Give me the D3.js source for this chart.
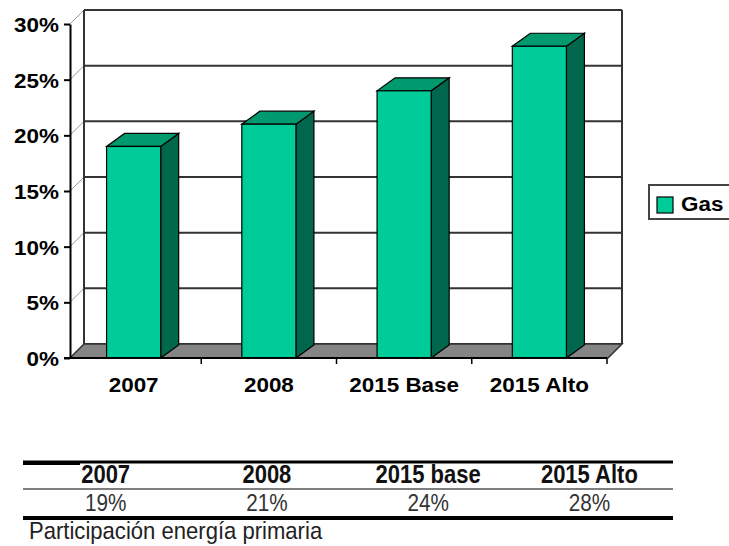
<!DOCTYPE html>
<html><head><meta charset="utf-8">
<script src="https://cdn.jsdelivr.net/npm/d3@7"></script>
<style>
html,body{margin:0;padding:0;background:#fff;}
svg{display:block;}
</style></head>
<body>
<svg id="chart" width="729" height="546"></svg>
<script>
const categories = ["2007", "2008", "2015 Base", "2015 Alto"];
const gasValues = [0.19, 0.21, 0.24, 0.28];
const yTicks = [0, 0.05, 0.10, 0.15, 0.20, 0.25, 0.30];
const seriesName = "Gas";
const tableHeaders = ["2007", "2008", "2015 base", "2015 Alto"];
const tableValues = ["19%", "21%", "24%", "28%"];
const footnote = "Participación energía primaria";

const svg = d3.select("#chart");
const FONT = "'Liberation Sans', Arial, sans-serif";
const SX = 1.07; // horizontal stretch of chart labels

// 3D geometry
const wallDx = 14, wallDy = -14;
const barDx = 18, barDy = -13;
const axisX = 70, floorY = 358, wallRight = 608;

const y = d3.scaleLinear().domain([0, 0.30]).range([358, 24]);
const x = d3.scaleBand().domain(categories).range([66, 607]).paddingInner(0.6).paddingOuter(0.3);

const colFront = "#00cc99", colTop = "#009a6e", colSide = "#00664c";

// back wall gridlines
const g = svg.append("g");
g.selectAll("line.grid").data(yTicks).enter().append("line")
  .attr("x1", axisX + wallDx).attr("x2", wallRight + wallDx)
  .attr("y1", d => y(d) + wallDy).attr("y2", d => y(d) + wallDy)
  .attr("stroke", "#333").attr("stroke-width", 2);
// left wall diagonals
g.selectAll("line.diag").data(yTicks).enter().append("line")
  .attr("x1", axisX).attr("y1", d => y(d))
  .attr("x2", axisX + wallDx).attr("y2", d => y(d) + wallDy)
  .attr("stroke", "#999").attr("stroke-width", 1);
// back wall verticals
[axisX + wallDx, wallRight + wallDx].forEach(xx => {
  g.append("line").attr("x1", xx).attr("x2", xx)
    .attr("y1", y(0.30) + wallDy).attr("y2", y(0) + wallDy)
    .attr("stroke", "#333").attr("stroke-width", 2);
});

// floor
g.append("path")
  .attr("d", `M${axisX},${floorY} L${wallRight},${floorY} L${wallRight + wallDx},${floorY + wallDy} L${axisX + wallDx},${floorY + wallDy} Z`)
  .attr("fill", "#858585").attr("stroke", "#333").attr("stroke-width", 1.5);

// bars
const bars = svg.append("g").selectAll("g").data(categories.map((c, i) => ({c, v: gasValues[i]}))).enter().append("g");
bars.append("path") // side
  .attr("d", d => {
    const x1 = x(d.c) + x.bandwidth(), yt = y(d.v);
    return `M${x1},${yt} L${x1 + barDx},${yt + barDy} L${x1 + barDx},${floorY + barDy} L${x1},${floorY} Z`;
  })
  .attr("fill", colSide).attr("stroke", "#000").attr("stroke-width", 1.2);
bars.append("path") // top
  .attr("d", d => {
    const x0 = x(d.c), x1 = x0 + x.bandwidth(), yt = y(d.v);
    return `M${x0},${yt} L${x1},${yt} L${x1 + barDx},${yt + barDy} L${x0 + barDx},${yt + barDy} Z`;
  })
  .attr("fill", colTop).attr("stroke", "#000").attr("stroke-width", 1.2);
bars.append("rect") // front
  .attr("x", d => x(d.c)).attr("y", d => y(d.v))
  .attr("width", x.bandwidth()).attr("height", d => floorY - y(d.v))
  .attr("fill", colFront).attr("stroke", "#000").attr("stroke-width", 1.2);

// y axis
const yAxis = svg.append("g").attr("transform", `translate(${axisX},0)`)
  .call(d3.axisLeft(y).tickValues(yTicks).tickFormat(d3.format(".0%")).tickSize(6).tickSizeOuter(0));
yAxis.select(".domain").attr("stroke", "#000").attr("stroke-width", 2);
yAxis.selectAll(".tick line").attr("stroke", "#000").attr("stroke-width", 2);
yAxis.selectAll(".tick text").attr("x", -11 / SX).attr("dy", "0.36em")
  .attr("transform", `scale(${SX},1)`)
  .style("font-family", FONT).style("font-weight", "bold").style("font-size", "21px").attr("fill", "#000");

// x axis line and ticks
svg.append("line").attr("x1", axisX - 6).attr("x2", 607).attr("y1", floorY).attr("y2", floorY)
  .attr("stroke", "#000").attr("stroke-width", 2);
svg.selectAll("line.xtick").data(categories).enter().append("line")
  .attr("x1", (d, i) => x.range()[0] + x.step() * (i + 1))
  .attr("x2", (d, i) => x.range()[0] + x.step() * (i + 1))
  .attr("y1", floorY).attr("y2", floorY + 6)
  .attr("stroke", "#000").attr("stroke-width", 1.5);
svg.selectAll("g.xlab").data(categories).enter().append("g")
  .attr("transform", d => `translate(${x(d) + x.bandwidth() / 2},392) scale(${SX},1)`)
  .append("text").attr("text-anchor", "middle")
  .style("font-family", FONT).style("font-weight", "bold").style("font-size", "21px").attr("fill", "#000")
  .text(d => d);

// legend
const leg = svg.append("g");
leg.append("rect").attr("x", 649).attr("y", 185).attr("width", 100).attr("height", 34)
  .attr("fill", "#fff").attr("stroke", "#444").attr("stroke-width", 2);
leg.append("rect").attr("x", 657).attr("y", 197).attr("width", 16).attr("height", 16)
  .attr("fill", colFront).attr("stroke", "#000").attr("stroke-width", 1.2);
leg.append("g").attr("transform", `translate(681,211) scale(${SX},1)`)
  .append("text")
  .style("font-family", FONT).style("font-weight", "bold").style("font-size", "21px").attr("fill", "#000")
  .text(seriesName);

// table
const tx = d3.scaleBand().domain(tableHeaders).range([25, 670]);
const tbl = svg.append("g");
tbl.append("line").attr("x1", 23).attr("x2", 673).attr("y1", 462).attr("y2", 462).attr("stroke", "#000").attr("stroke-width", 3);
tbl.append("line").attr("x1", 23).attr("x2", 80).attr("y1", 463).attr("y2", 463).attr("stroke", "#000").attr("stroke-width", 4);
tbl.append("line").attr("x1", 23).attr("x2", 673).attr("y1", 489).attr("y2", 489).attr("stroke", "#555").attr("stroke-width", 1.5);
tbl.append("line").attr("x1", 23).attr("x2", 673).attr("y1", 518).attr("y2", 518).attr("stroke", "#000").attr("stroke-width", 4);
tbl.selectAll("g.h").data(tableHeaders).enter().append("g")
  .attr("transform", d => `translate(${tx(d) + tx.bandwidth() / 2},483) scale(0.88,1)`)
  .append("text").attr("text-anchor", "middle")
  .style("font-family", FONT).style("font-weight", "bold").style("font-size", "25px").attr("fill", "#111")
  .text(d => d);
tbl.selectAll("g.v").data(tableValues).enter().append("g")
  .attr("transform", (d, i) => `translate(${tx(tableHeaders[i]) + tx.bandwidth() / 2},511) scale(0.9,1)`)
  .append("text").attr("text-anchor", "middle")
  .style("font-family", FONT).style("font-size", "23px").attr("fill", "#333")
  .text(d => d);
tbl.append("g").attr("transform", "translate(29,539) scale(0.92,1)")
  .append("text")
  .style("font-family", FONT).style("font-size", "24px").attr("fill", "#222")
  .text(footnote);
</script>
</body></html>
